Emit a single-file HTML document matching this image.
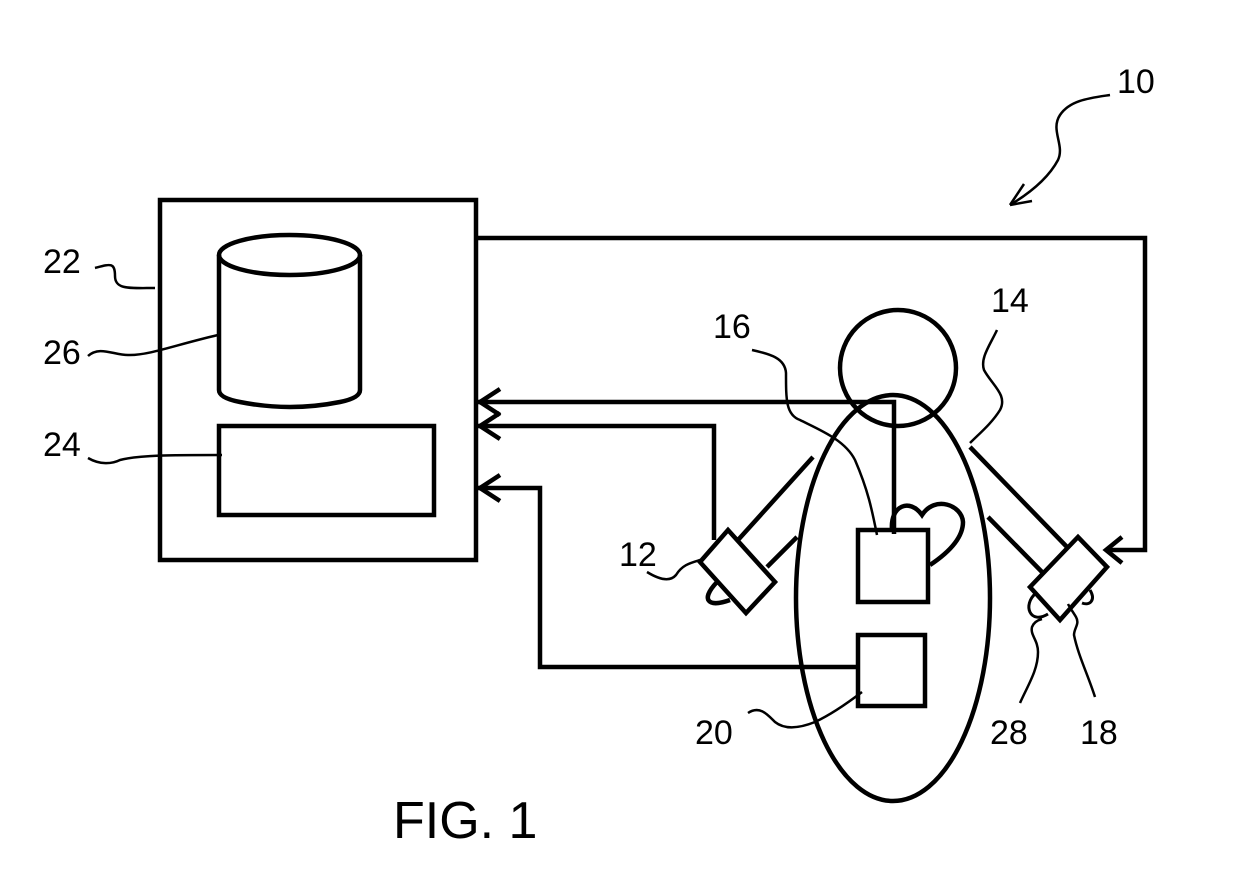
<!DOCTYPE html>
<html><head><style>body{margin:0;background:#fff}svg{display:block}</style></head>
<body>
<svg width="1240" height="886" viewBox="0 0 1240 886" xmlns="http://www.w3.org/2000/svg">
<g fill="none" stroke="#000" stroke-width="4.5" stroke-linejoin="miter">
<rect x="160" y="200" width="316" height="360"/>
<path d="M219 255 V390 Q219 398 240 402 Q290 412 340 402 Q360 398 360 390 V255"/>
<ellipse cx="289.5" cy="255" rx="70.5" ry="20"/>
<rect x="219" y="426" width="215" height="89"/>
<path d="M476 238 H1145 V550 H1106"/>
<path d="M1122 537 L1106 550 L1122 563"/>
<path d="M478 402 H894 V534"/>
<path d="M500 389 L480 402 L500 415"/>
<path d="M478 426 H714 V540"/>
<path d="M500 413 L480 426 L500 439"/>
<path d="M478 488 H540 V667 H858"/>
<path d="M500 475 L480 488 L500 501"/>
<circle cx="898" cy="368" r="58"/>
<ellipse cx="893" cy="598" rx="97" ry="203"/>
<rect x="858" y="530" width="70" height="72"/>
<rect x="858" y="635" width="67" height="71"/>
<path d="M892 530 C890 505 910 498 922 515 C935 495 962 505 963 522 C963 540 945 555 930 565"/>
<path d="M738 540 L813 457"/>
<path d="M767 567 L797 537"/>
<path d="M700 562 L728 530 L775 582 L746 613 Z"/>
<path d="M717 582 C700 600 708 608 730 600"/>
<path d="M970 447 L1067 547"/>
<path d="M988 517 L1042 572"/>
<path d="M1030 587 L1078 537 L1107 567 L1060 620 Z"/>
<path d="M1036 593 C1022 605 1030 625 1048 614" stroke-width="3"/>
<path d="M1090 590 C1096 600 1090 606 1082 603" stroke-width="3"/>
<g stroke-width="2.5">
<path d="M95 268 C110 264 115 262 115 276 C115 290 130 288 155 288"/>
<path d="M88 356 C100 345 115 356 130 355 C150 355 175 345 218 335"/>
<path d="M88 458 C100 465 112 464 120 460 C140 455 170 455 222 455"/>
<path d="M752 350 C770 354 785 358 786 373 C786 400 786 415 800 420 C820 430 845 440 855 460 C868 490 872 510 877 535"/>
<path d="M997 330 C990 345 980 358 984 370 C992 385 1008 395 1000 410 C992 423 980 433 970 443"/>
<path d="M647 572 C660 580 670 582 676 575 C682 565 690 563 700 560"/>
<path d="M748 713 C760 705 768 715 775 722 C785 730 800 728 815 722 C830 715 845 705 862 692"/>
<path d="M1020 703 C1028 685 1038 670 1038 652 C1038 640 1030 635 1032 627 C1034 622 1038 620 1042 619"/>
<path d="M1095 697 C1088 675 1078 655 1074 635 C1074 628 1080 624 1076 617 C1073 612 1070 608 1068 604"/>
<path d="M1110 95 C1090 98 1070 100 1060 115 C1050 130 1065 145 1058 160 C1050 175 1035 190 1010 205"/>
<path d="M1010 205 L1024 184 M1010 205 L1032 201"/>
</g>
</g>
<g font-family="Liberation Sans, sans-serif" font-size="34" fill="#000">
<text x="43" y="273">22</text>
<text x="43" y="364">26</text>
<text x="43" y="456">24</text>
<text x="1117" y="93">10</text>
<text x="713" y="338">16</text>
<text x="991" y="312">14</text>
<text x="619" y="566">12</text>
<text x="695" y="744">20</text>
<text x="990" y="744">28</text>
<text x="1080" y="744">18</text>
<text x="393" y="838" font-size="52">FIG. 1</text>
</g>
</svg>
</body></html>
